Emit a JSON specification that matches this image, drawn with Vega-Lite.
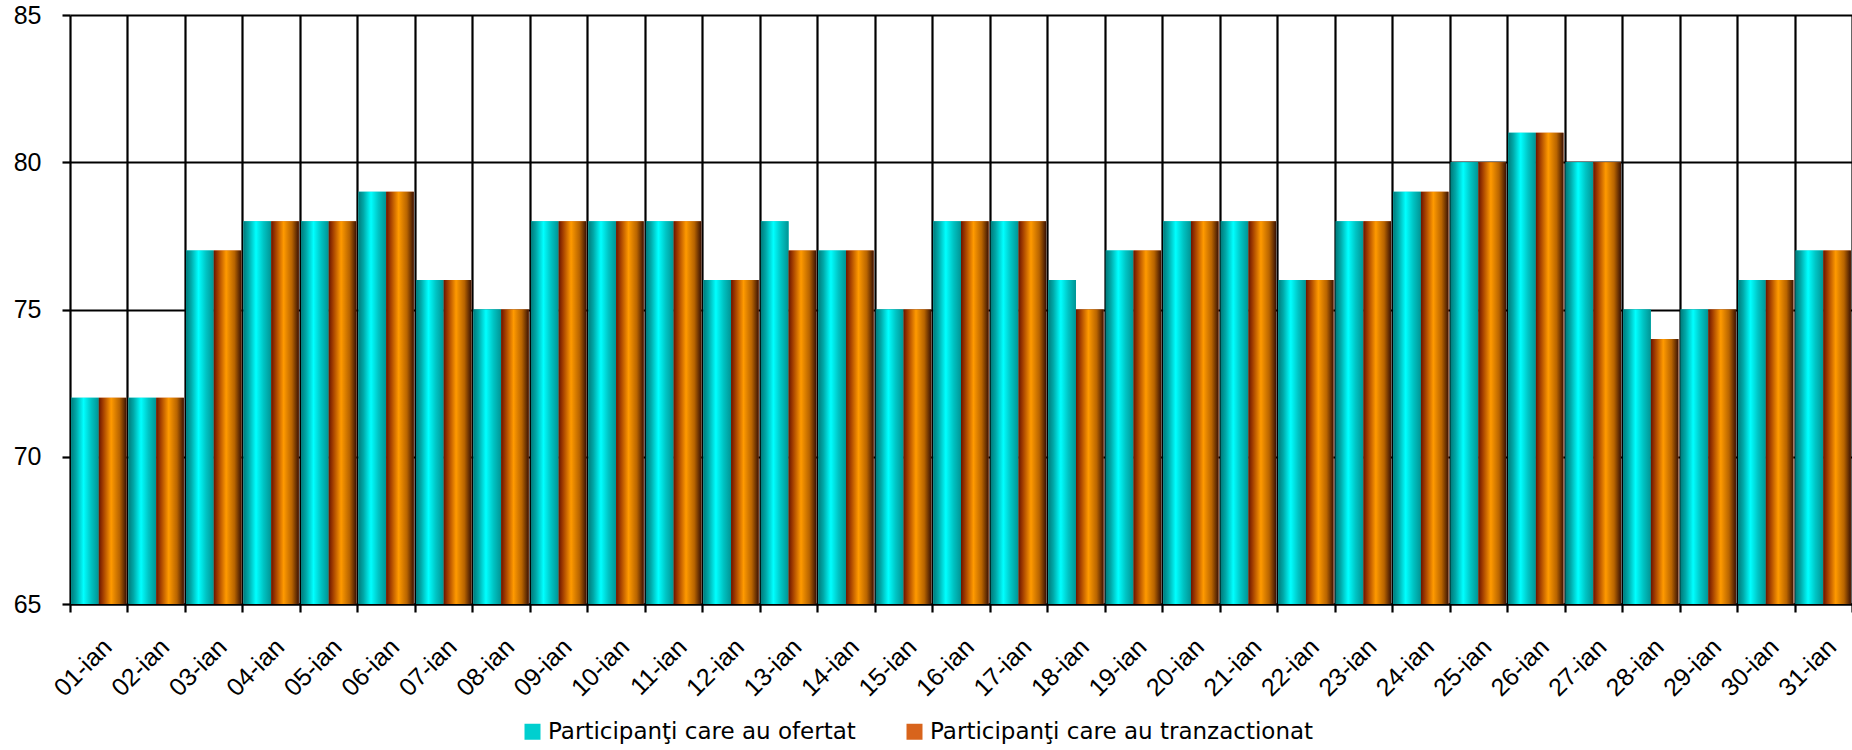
{
  "$schema": "https://vega.github.io/schema/vega-lite/v6.json",
  "width": 1782,
  "height": 589,
  "autosize": {"type": "none"},
  "padding": {"left": 70, "top": 15, "right": 0, "bottom": 146},
  "background": "white",
  "config": {
    "view": {"stroke": null},
    "font": "Liberation Sans"
  },
  "data": {"values": [
    {"zi":"01-ian","serie":"Participanţi care au ofertat","v":72},{"zi":"01-ian","serie":"Participanţi care au tranzactionat","v":72},
    {"zi":"02-ian","serie":"Participanţi care au ofertat","v":72},{"zi":"02-ian","serie":"Participanţi care au tranzactionat","v":72},
    {"zi":"03-ian","serie":"Participanţi care au ofertat","v":77},{"zi":"03-ian","serie":"Participanţi care au tranzactionat","v":77},
    {"zi":"04-ian","serie":"Participanţi care au ofertat","v":78},{"zi":"04-ian","serie":"Participanţi care au tranzactionat","v":78},
    {"zi":"05-ian","serie":"Participanţi care au ofertat","v":78},{"zi":"05-ian","serie":"Participanţi care au tranzactionat","v":78},
    {"zi":"06-ian","serie":"Participanţi care au ofertat","v":79},{"zi":"06-ian","serie":"Participanţi care au tranzactionat","v":79},
    {"zi":"07-ian","serie":"Participanţi care au ofertat","v":76},{"zi":"07-ian","serie":"Participanţi care au tranzactionat","v":76},
    {"zi":"08-ian","serie":"Participanţi care au ofertat","v":75},{"zi":"08-ian","serie":"Participanţi care au tranzactionat","v":75},
    {"zi":"09-ian","serie":"Participanţi care au ofertat","v":78},{"zi":"09-ian","serie":"Participanţi care au tranzactionat","v":78},
    {"zi":"10-ian","serie":"Participanţi care au ofertat","v":78},{"zi":"10-ian","serie":"Participanţi care au tranzactionat","v":78},
    {"zi":"11-ian","serie":"Participanţi care au ofertat","v":78},{"zi":"11-ian","serie":"Participanţi care au tranzactionat","v":78},
    {"zi":"12-ian","serie":"Participanţi care au ofertat","v":76},{"zi":"12-ian","serie":"Participanţi care au tranzactionat","v":76},
    {"zi":"13-ian","serie":"Participanţi care au ofertat","v":78},{"zi":"13-ian","serie":"Participanţi care au tranzactionat","v":77},
    {"zi":"14-ian","serie":"Participanţi care au ofertat","v":77},{"zi":"14-ian","serie":"Participanţi care au tranzactionat","v":77},
    {"zi":"15-ian","serie":"Participanţi care au ofertat","v":75},{"zi":"15-ian","serie":"Participanţi care au tranzactionat","v":75},
    {"zi":"16-ian","serie":"Participanţi care au ofertat","v":78},{"zi":"16-ian","serie":"Participanţi care au tranzactionat","v":78},
    {"zi":"17-ian","serie":"Participanţi care au ofertat","v":78},{"zi":"17-ian","serie":"Participanţi care au tranzactionat","v":78},
    {"zi":"18-ian","serie":"Participanţi care au ofertat","v":76},{"zi":"18-ian","serie":"Participanţi care au tranzactionat","v":75},
    {"zi":"19-ian","serie":"Participanţi care au ofertat","v":77},{"zi":"19-ian","serie":"Participanţi care au tranzactionat","v":77},
    {"zi":"20-ian","serie":"Participanţi care au ofertat","v":78},{"zi":"20-ian","serie":"Participanţi care au tranzactionat","v":78},
    {"zi":"21-ian","serie":"Participanţi care au ofertat","v":78},{"zi":"21-ian","serie":"Participanţi care au tranzactionat","v":78},
    {"zi":"22-ian","serie":"Participanţi care au ofertat","v":76},{"zi":"22-ian","serie":"Participanţi care au tranzactionat","v":76},
    {"zi":"23-ian","serie":"Participanţi care au ofertat","v":78},{"zi":"23-ian","serie":"Participanţi care au tranzactionat","v":78},
    {"zi":"24-ian","serie":"Participanţi care au ofertat","v":79},{"zi":"24-ian","serie":"Participanţi care au tranzactionat","v":79},
    {"zi":"25-ian","serie":"Participanţi care au ofertat","v":80},{"zi":"25-ian","serie":"Participanţi care au tranzactionat","v":80},
    {"zi":"26-ian","serie":"Participanţi care au ofertat","v":81},{"zi":"26-ian","serie":"Participanţi care au tranzactionat","v":81},
    {"zi":"27-ian","serie":"Participanţi care au ofertat","v":80},{"zi":"27-ian","serie":"Participanţi care au tranzactionat","v":80},
    {"zi":"28-ian","serie":"Participanţi care au ofertat","v":75},{"zi":"28-ian","serie":"Participanţi care au tranzactionat","v":74},
    {"zi":"29-ian","serie":"Participanţi care au ofertat","v":75},{"zi":"29-ian","serie":"Participanţi care au tranzactionat","v":75},
    {"zi":"30-ian","serie":"Participanţi care au ofertat","v":76},{"zi":"30-ian","serie":"Participanţi care au tranzactionat","v":76},
    {"zi":"31-ian","serie":"Participanţi care au ofertat","v":77},{"zi":"31-ian","serie":"Participanţi care au tranzactionat","v":77}
  ]},
  "encoding": {
    "x": {
      "field": "zi", "type": "nominal", "sort": null,
      "scale": {"paddingInner": 0, "paddingOuter": 0},
      "axis": {
        "title": null,
        "labelAngle": -45, "labelPadding": 22, "tickBand": "extent",
        "labelFont": "Liberation Sans", "labelFontSize": 25, "labelColor": "black",
        "grid": true, "gridColor": "black", "gridWidth": 2.2, "gridOpacity": 1,
        "domainColor": "black", "domainWidth": 2.2, "domainOpacity": 1,
        "tickColor": "black", "tickWidth": 2.2, "tickSize": 8, "tickOpacity": 1
      }
    },
    "xOffset": {
      "field": "serie", "type": "nominal",
      "sort": ["Participanţi care au ofertat", "Participanţi care au tranzactionat"],
      "scale": {"paddingOuter": 0.04, "paddingInner": 0}
    },
    "y": {
      "field": "v", "type": "quantitative",
      "scale": {"domain": [65, 85], "nice": false, "zero": false},
      "axis": {
        "title": null,
        "values": [65, 70, 75, 80, 85],
        "labelFont": "Liberation Sans", "labelFontSize": 25, "labelColor": "black",
        "grid": true, "gridColor": "black", "gridWidth": 2.2, "gridOpacity": 1,
        "domain": false, "tickColor": "black", "tickWidth": 2.2, "tickSize": 8, "tickOpacity": 1,
        "labelPadding": 21
      }
    },
    "y2": {"datum": 65}
  },
  "layer": [
    {
      "mark": {"type": "bar", "clip": true},
      "encoding": {
        "color": {
          "field": "serie", "type": "nominal",
          "scale": {"domain": ["Participanţi care au ofertat", "Participanţi care au tranzactionat"], "range": ["#00CFCF", "#D8641C"]},
          "legend": {
            "title": null, "orient": "none", "legendX": 451, "legendY": 705,
            "direction": "horizontal", "symbolType": "square", "symbolSize": 256,
            "symbolStrokeWidth": 0, "columnPadding": 47, "labelLimit": 0, "labelOffset": 4,
            "labelFont": "DejaVu Sans", "labelFontSize": 23, "labelColor": "black"
          }
        }
      }
    },
    {
      "transform": [{"filter": "datum.serie === 'Participanţi care au ofertat'"}],
      "mark": {
        "type": "bar", "clip": true,
        "fill": {"gradient": "linear", "x1": 0, "y1": 0, "x2": 1, "y2": 0, "stops": [
          {"offset": 0, "color": "#007C7C"},
          {"offset": 0.18, "color": "#00A8A8"},
          {"offset": 0.45, "color": "#00FFFF"},
          {"offset": 0.72, "color": "#00C4C4"},
          {"offset": 1, "color": "#009494"}
        ]}
      }
    },
    {
      "transform": [{"filter": "datum.serie === 'Participanţi care au tranzactionat'"}],
      "mark": {
        "type": "bar", "clip": true,
        "fill": {"gradient": "linear", "x1": 0, "y1": 0, "x2": 1, "y2": 0, "stops": [
          {"offset": 0, "color": "#6A1400"},
          {"offset": 0.15, "color": "#A03C00"},
          {"offset": 0.45, "color": "#FF9A00"},
          {"offset": 0.75, "color": "#B86400"},
          {"offset": 1, "color": "#3A1204"}
        ]}
      }
    }
  ]
}
